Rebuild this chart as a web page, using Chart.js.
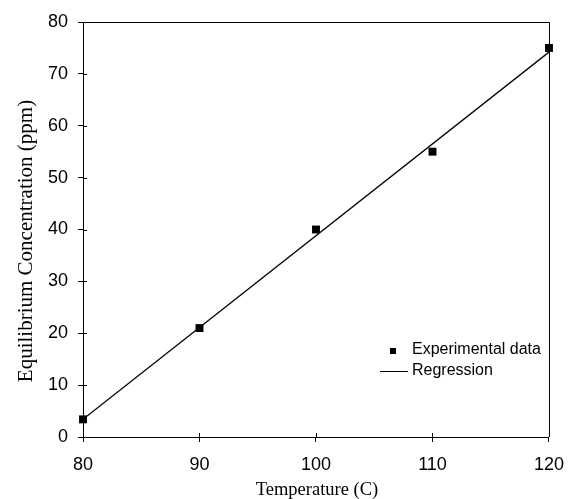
<!DOCTYPE html>
<html lang="en">
<head>
  <meta charset="UTF-8" />
  <title>Equilibrium Concentration vs Temperature</title>
  <script src="https://cdn.jsdelivr.net/npm/chart.js"></script>
  <style>
    body { margin: 0; background: #fff; }
    canvas { display: block; }
  </style>
</head>
<body>
  <canvas id="eqChart" width="576" height="499"></canvas>

  <script>
    // data
    const temps = [80, 90, 100, 110, 120];
    const concentration = [3.4, 21, 40, 55, 75];
    const regressionX = [80, 120];
    const regressionY = [3.4, 74.2];
    const xTicks = [80, 90, 100, 110, 120];
    const yTicks = [0, 10, 20, 30, 40, 50, 60, 70, 80];

    const sans = '"Liberation Sans", Arial, sans-serif';
    const serif = '"Liberation Serif", "Times New Roman", serif';

    // box, inner tick marks, axis titles and legend
    const decorations = {
      id: 'decorations',
      afterDraw(chart) {
        const { ctx, chartArea: a, scales } = chart;
        ctx.save();
        ctx.strokeStyle = '#000';
        ctx.lineWidth = 1;
        ctx.beginPath();
        ctx.moveTo(a.left, a.top + 0.5);
        ctx.lineTo(a.right + 0.5, a.top + 0.5);
        ctx.lineTo(a.right + 0.5, a.bottom);
        ctx.stroke();

        ctx.beginPath();
        yTicks.forEach(v => {
          const y = Math.round(scales.y.getPixelForValue(v)) + 0.5;
          ctx.moveTo(a.left, y);
          ctx.lineTo(a.left + 4, y);
        });
        xTicks.forEach(v => {
          const x = Math.round(scales.x.getPixelForValue(v)) + 0.5;
          ctx.moveTo(x, a.bottom);
          ctx.lineTo(x, a.bottom - 4);
        });
        ctx.stroke();

        // axis titles
        ctx.fillStyle = '#000';
        ctx.font = '18.5px ' + serif;
        ctx.textAlign = 'center';
        ctx.textBaseline = 'alphabetic';
        ctx.fillText('Temperature (C)', (a.left + a.right) / 2 + 1, 495);
        ctx.save();
        ctx.translate(32, 241);
        ctx.rotate(-Math.PI / 2);
        ctx.font = '21px ' + serif;
        ctx.fillText('Equilibrium Concentration (ppm)', 0, 0);
        ctx.restore();

        // legend
        const lx = a.right - 156;
        const ly = a.bottom - 86;
        ctx.fillRect(lx - 3, ly - 3, 6, 6);
        ctx.beginPath();
        ctx.moveTo(lx - 13, ly + 20.5);
        ctx.lineTo(lx + 15, ly + 20.5);
        ctx.stroke();
        ctx.font = '16px ' + sans;
        ctx.textAlign = 'left';
        ctx.textBaseline = 'middle';
        ctx.fillText('Experimental data', lx + 19, ly - 1);
        ctx.fillText('Regression', lx + 19, ly + 20);
        ctx.restore();
      }
    };

    const ctx = document.getElementById('eqChart').getContext('2d');
    new Chart(ctx, {
      type: 'scatter',
      data: {
        datasets: [
          {
            label: 'Experimental data',
            data: temps.map((t, i) => ({ x: t, y: concentration[i] })),
            pointStyle: 'rect',
            pointRadius: 5.6,
            pointHoverRadius: 5.6,
            backgroundColor: '#000',
            borderColor: '#000',
            borderWidth: 0,
            showLine: false,
            clip: false
          },
          {
            label: 'Regression',
            type: 'line',
            data: regressionX.map((t, i) => ({ x: t, y: regressionY[i] })),
            borderColor: '#000',
            borderWidth: 1.3,
            pointRadius: 0,
            fill: false,
            tension: 0
          }
        ]
      },
      options: {
        responsive: false,
        animation: false,
        devicePixelRatio: 1,
        layout: { padding: { left: 0, top: 22, right: 19, bottom: 0 } },
        plugins: {
          legend: { display: false },
          tooltip: { enabled: false }
        },
        scales: {
          x: {
            type: 'linear',
            min: 80,
            max: 120,
            afterFit: s => { s.height = 62; },
            afterBuildTicks: s => { s.ticks = xTicks.map(v => ({ value: v })); },
            grid: { drawOnChartArea: false, tickLength: 5, color: '#000' },
            border: { color: '#000', width: 1 },
            ticks: { color: '#000', padding: 12, font: { family: sans, size: 18 } }
          },
          y: {
            type: 'linear',
            min: 0,
            max: 80,
            afterFit: s => { s.width = 83; },
            afterBuildTicks: s => { s.ticks = yTicks.map(v => ({ value: v })); },
            grid: { drawOnChartArea: false, tickLength: 5, color: '#000' },
            border: { color: '#000', width: 1 },
            ticks: { color: '#000', padding: 10, font: { family: sans, size: 18 } }
          }
        }
      },
      plugins: [decorations]
    });
  </script>
</body>
</html>
